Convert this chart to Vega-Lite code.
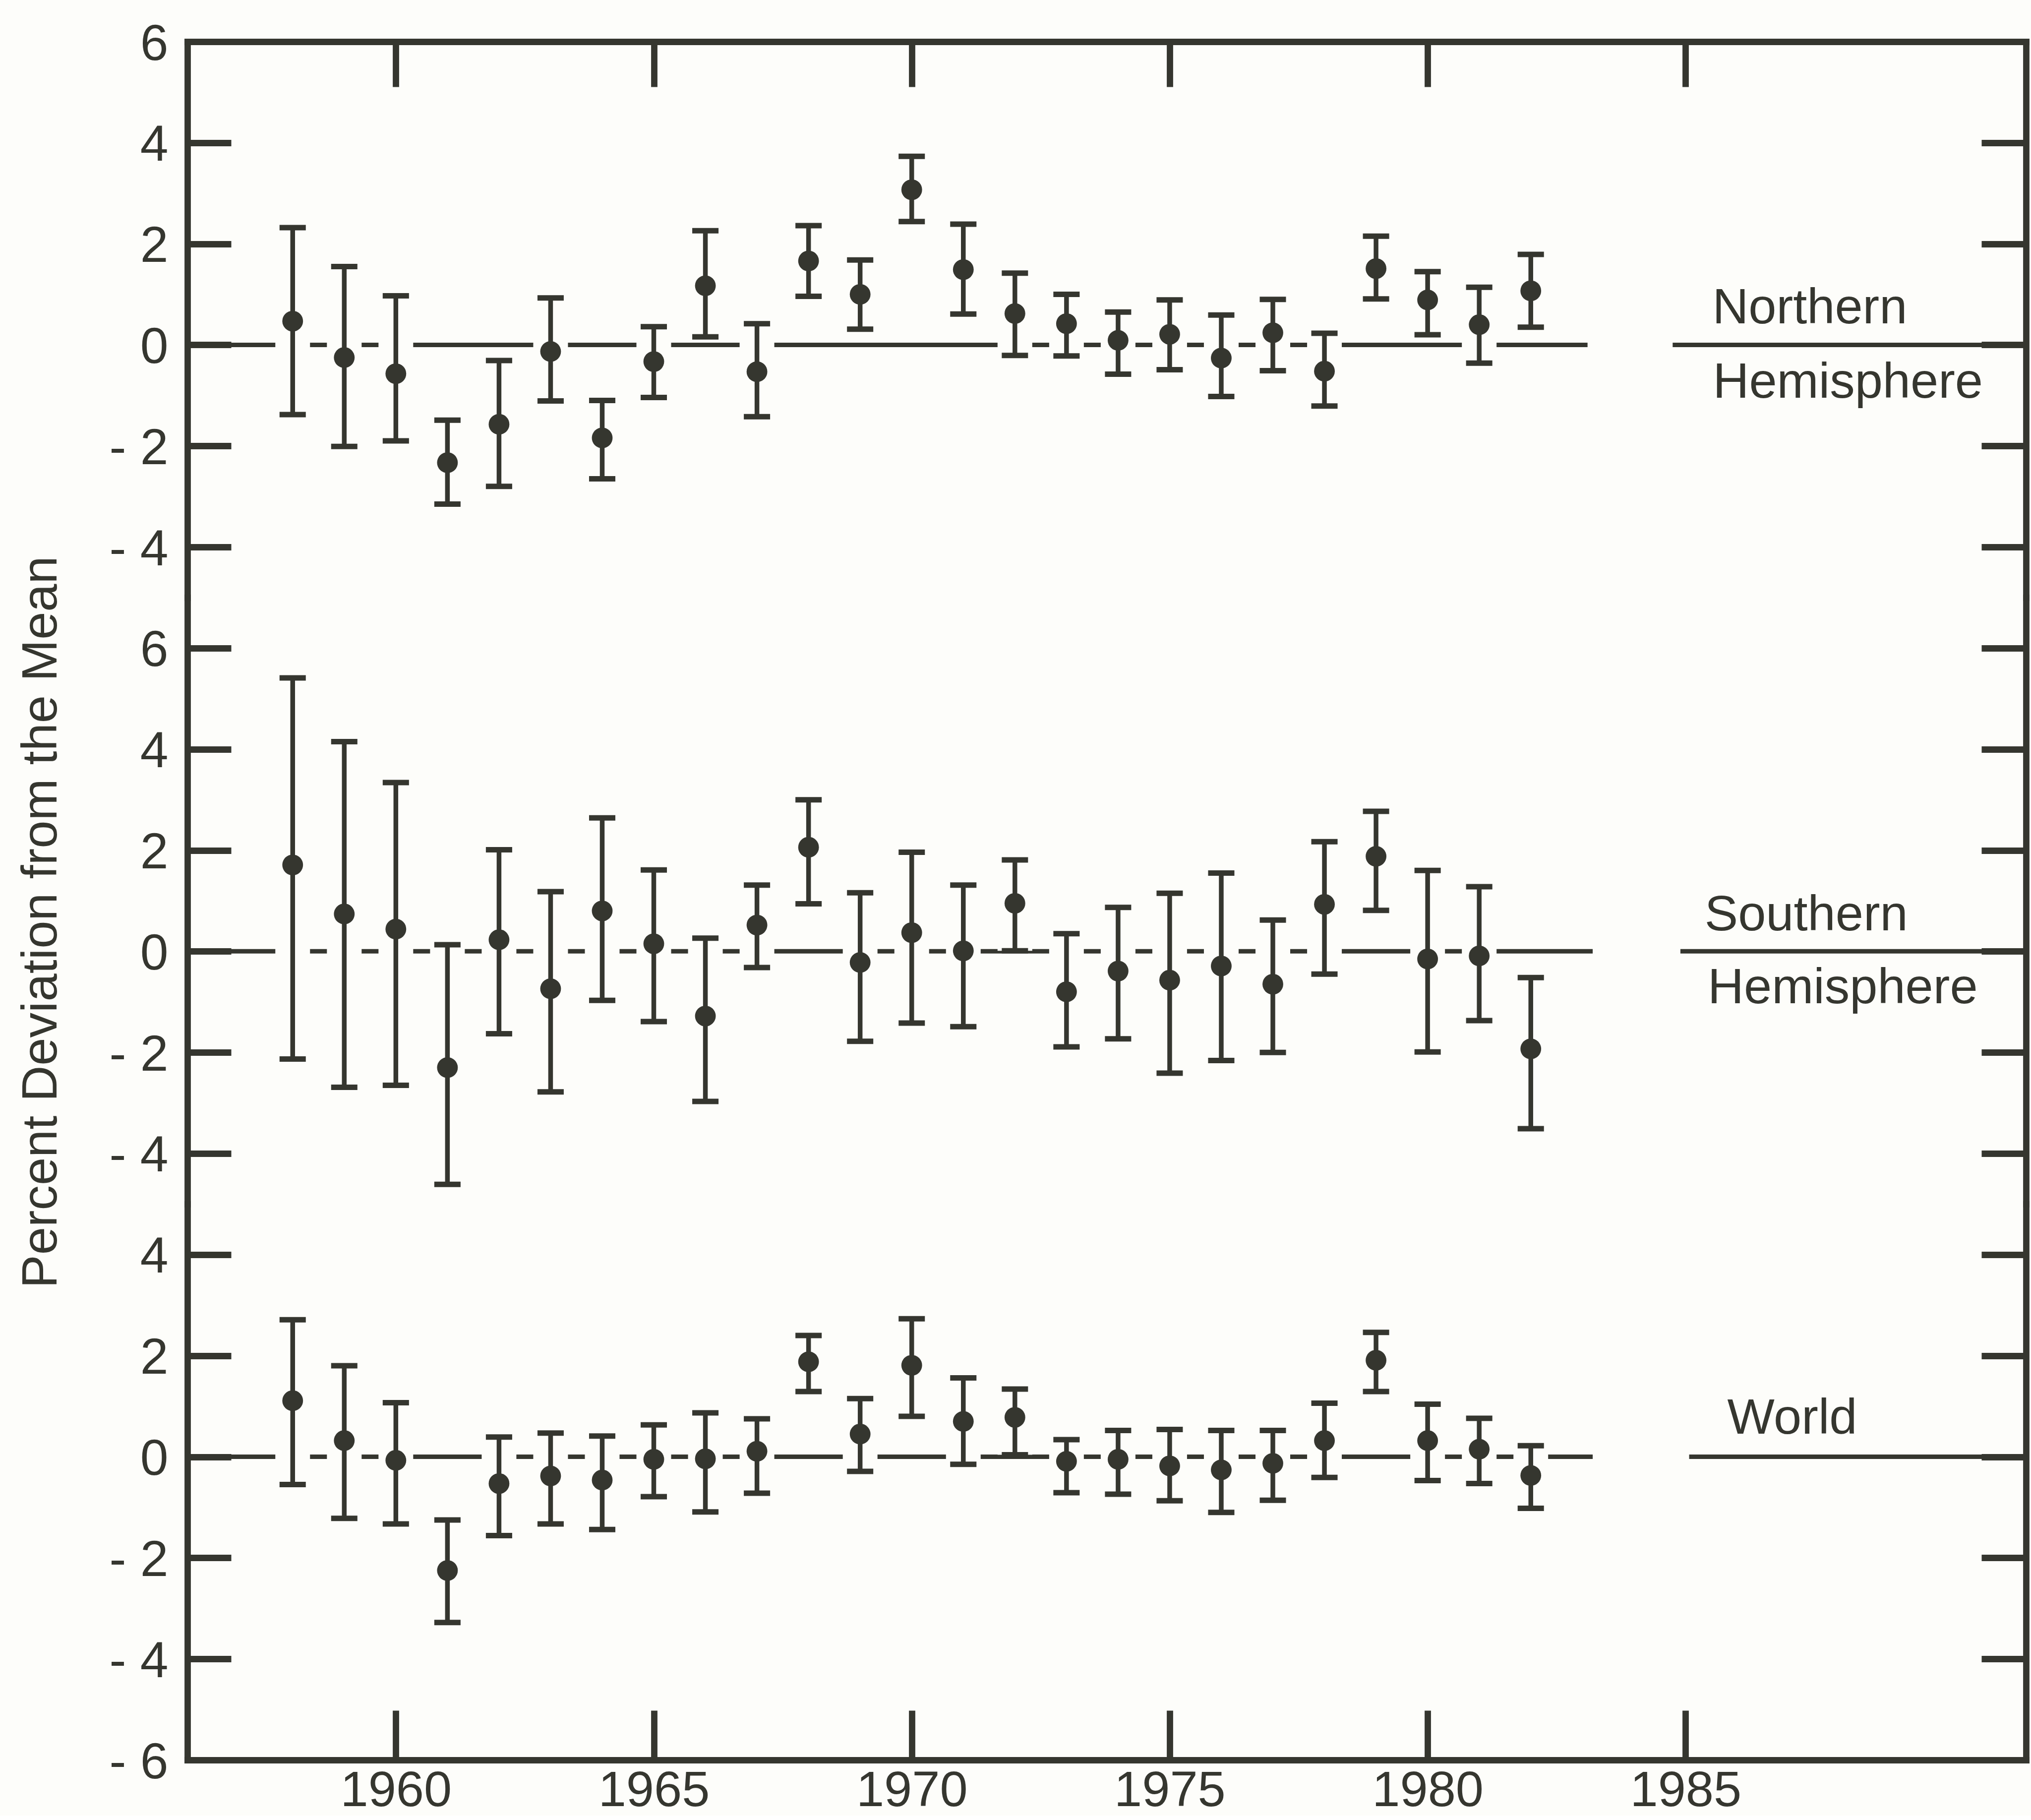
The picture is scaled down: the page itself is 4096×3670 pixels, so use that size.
{
"$schema": "https://vega.github.io/schema/vega-lite/v6.json",
"autosize": {"type": "pad"},
"padding": {"left": 31, "top": 38, "right": 4, "bottom": 0},
"background": "#fdfdfa",
"bounds": "flush",
"spacing": 0,
"config": {"view": {"stroke": null}, "font": "Liberation Sans", "axis": {"labelLimit": 0}},
"datasets": {
"pts": [
{"panel":"N","year":1958,"value":0.47,"lo":-1.38,"hi":2.32},
{"panel":"N","year":1959,"value":-0.25,"lo":-2.01,"hi":1.55},
{"panel":"N","year":1960,"value":-0.57,"lo":-1.90,"hi":0.97},
{"panel":"N","year":1961,"value":-2.33,"lo":-3.15,"hi":-1.49},
{"panel":"N","year":1962,"value":-1.57,"lo":-2.80,"hi":-0.31},
{"panel":"N","year":1963,"value":-0.13,"lo":-1.11,"hi":0.93},
{"panel":"N","year":1964,"value":-1.84,"lo":-2.65,"hi":-1.10},
{"panel":"N","year":1965,"value":-0.33,"lo":-1.04,"hi":0.36},
{"panel":"N","year":1966,"value":1.17,"lo":0.16,"hi":2.26},
{"panel":"N","year":1967,"value":-0.53,"lo":-1.42,"hi":0.42},
{"panel":"N","year":1968,"value":1.66,"lo":0.96,"hi":2.36},
{"panel":"N","year":1969,"value":1.00,"lo":0.31,"hi":1.68},
{"panel":"N","year":1970,"value":3.07,"lo":2.44,"hi":3.73},
{"panel":"N","year":1971,"value":1.49,"lo":0.61,"hi":2.39},
{"panel":"N","year":1972,"value":0.62,"lo":-0.21,"hi":1.42},
{"panel":"N","year":1973,"value":0.42,"lo":-0.22,"hi":1.00},
{"panel":"N","year":1974,"value":0.09,"lo":-0.58,"hi":0.65},
{"panel":"N","year":1975,"value":0.21,"lo":-0.49,"hi":0.89},
{"panel":"N","year":1976,"value":-0.26,"lo":-1.02,"hi":0.59},
{"panel":"N","year":1977,"value":0.24,"lo":-0.51,"hi":0.90},
{"panel":"N","year":1978,"value":-0.52,"lo":-1.21,"hi":0.23},
{"panel":"N","year":1979,"value":1.51,"lo":0.91,"hi":2.15},
{"panel":"N","year":1980,"value":0.89,"lo":0.20,"hi":1.45},
{"panel":"N","year":1981,"value":0.40,"lo":-0.36,"hi":1.14},
{"panel":"N","year":1982,"value":1.07,"lo":0.35,"hi":1.79},
{"panel":"S","year":1958,"value":1.71,"lo":-2.13,"hi":5.41},
{"panel":"S","year":1959,"value":0.74,"lo":-2.69,"hi":4.15},
{"panel":"S","year":1960,"value":0.44,"lo":-2.65,"hi":3.34},
{"panel":"S","year":1961,"value":-2.30,"lo":-4.61,"hi":0.13},
{"panel":"S","year":1962,"value":0.23,"lo":-1.63,"hi":2.01},
{"panel":"S","year":1963,"value":-0.74,"lo":-2.78,"hi":1.18},
{"panel":"S","year":1964,"value":0.80,"lo":-0.97,"hi":2.64},
{"panel":"S","year":1965,"value":0.15,"lo":-1.39,"hi":1.61},
{"panel":"S","year":1966,"value":-1.28,"lo":-2.97,"hi":0.26},
{"panel":"S","year":1967,"value":0.52,"lo":-0.32,"hi":1.31},
{"panel":"S","year":1968,"value":2.06,"lo":0.94,"hi":3.00},
{"panel":"S","year":1969,"value":-0.22,"lo":-1.78,"hi":1.16},
{"panel":"S","year":1970,"value":0.37,"lo":-1.42,"hi":1.96},
{"panel":"S","year":1971,"value":0.01,"lo":-1.49,"hi":1.31},
{"panel":"S","year":1972,"value":0.95,"lo":0.01,"hi":1.81},
{"panel":"S","year":1973,"value":-0.80,"lo":-1.89,"hi":0.35},
{"panel":"S","year":1974,"value":-0.39,"lo":-1.73,"hi":0.87},
{"panel":"S","year":1975,"value":-0.57,"lo":-2.41,"hi":1.15},
{"panel":"S","year":1976,"value":-0.29,"lo":-2.16,"hi":1.55},
{"panel":"S","year":1977,"value":-0.65,"lo":-2.00,"hi":0.62},
{"panel":"S","year":1978,"value":0.93,"lo":-0.45,"hi":2.17},
{"panel":"S","year":1979,"value":1.88,"lo":0.81,"hi":2.77},
{"panel":"S","year":1980,"value":-0.15,"lo":-1.99,"hi":1.60},
{"panel":"S","year":1981,"value":-0.09,"lo":-1.37,"hi":1.28},
{"panel":"S","year":1982,"value":-1.93,"lo":-3.51,"hi":-0.52},
{"panel":"W","year":1958,"value":1.11,"lo":-0.55,"hi":2.71},
{"panel":"W","year":1959,"value":0.32,"lo":-1.22,"hi":1.80},
{"panel":"W","year":1960,"value":-0.07,"lo":-1.33,"hi":1.07},
{"panel":"W","year":1961,"value":-2.25,"lo":-3.28,"hi":-1.25},
{"panel":"W","year":1962,"value":-0.53,"lo":-1.56,"hi":0.39},
{"panel":"W","year":1963,"value":-0.38,"lo":-1.33,"hi":0.47},
{"panel":"W","year":1964,"value":-0.46,"lo":-1.44,"hi":0.41},
{"panel":"W","year":1965,"value":-0.05,"lo":-0.79,"hi":0.63},
{"panel":"W","year":1966,"value":-0.04,"lo":-1.09,"hi":0.87},
{"panel":"W","year":1967,"value":0.11,"lo":-0.72,"hi":0.75},
{"panel":"W","year":1968,"value":1.88,"lo":1.29,"hi":2.40},
{"panel":"W","year":1969,"value":0.45,"lo":-0.29,"hi":1.15},
{"panel":"W","year":1970,"value":1.81,"lo":0.80,"hi":2.73},
{"panel":"W","year":1971,"value":0.70,"lo":-0.15,"hi":1.56},
{"panel":"W","year":1972,"value":0.78,"lo":0.04,"hi":1.34},
{"panel":"W","year":1973,"value":-0.09,"lo":-0.71,"hi":0.34},
{"panel":"W","year":1974,"value":-0.05,"lo":-0.74,"hi":0.52},
{"panel":"W","year":1975,"value":-0.18,"lo":-0.87,"hi":0.54},
{"panel":"W","year":1976,"value":-0.26,"lo":-1.10,"hi":0.52},
{"panel":"W","year":1977,"value":-0.13,"lo":-0.86,"hi":0.52},
{"panel":"W","year":1978,"value":0.32,"lo":-0.41,"hi":1.06},
{"panel":"W","year":1979,"value":1.91,"lo":1.29,"hi":2.46},
{"panel":"W","year":1980,"value":0.32,"lo":-0.47,"hi":1.04},
{"panel":"W","year":1981,"value":0.15,"lo":-0.53,"hi":0.76},
{"panel":"W","year":1982,"value":-0.37,"lo":-1.02,"hi":0.22}
],
"lines": [
{"panel":"N","seg":"trend","year":1955.96,"value":0},
{"panel":"N","seg":"trend","year":1983.1,"value":0},
{"panel":"N","seg":"label","year":1984.75,"value":0},
{"panel":"N","seg":"label","year":1991.6,"value":0},
{"panel":"S","seg":"trend","year":1955.96,"value":0},
{"panel":"S","seg":"trend","year":1983.2,"value":0},
{"panel":"S","seg":"label","year":1984.9,"value":0},
{"panel":"S","seg":"label","year":1991.6,"value":0},
{"panel":"W","seg":"trend","year":1955.96,"value":0},
{"panel":"W","seg":"trend","year":1983.2,"value":0},
{"panel":"W","seg":"label","year":1985.07,"value":0},
{"panel":"W","seg":"label","year":1991.6,"value":0}
],
"labels": [
{"panel":"N","text":"Northern","year":1985.52,"value":0.43},
{"panel":"N","text":"Hemisphere","year":1985.53,"value":-1.05},
{"panel":"S","text":"Southern","year":1985.37,"value":0.42},
{"panel":"S","text":"Hemisphere","year":1985.43,"value":-1.03},
{"panel":"W","text":"World","year":1985.81,"value":0.46}
]
},
"vconcat": [
{
"width": 3708, "height": 1121.0,
"resolve": {"axis": {"x": "independent", "y": "independent"}},
"layer": [
{"data": {"name": "lines"}, "transform": [{"filter": "datum.panel === 'N'"}],
 "mark": {"type": "line", "color": "#35362f", "strokeWidth": 9, "strokeCap": "butt"},
 "encoding": {
  "x": {"field": "year", "type": "quantitative", "scale": {"domain": [1955.96, 1991.6], "nice": false, "zero": false},
        "axis": {"orient": "top", "values": [1960,1965,1970,1975,1980,1985], "labels": false, "title": null, "grid": false, "tickSize": -91, "tickWidth": 12.8, "tickColor": "#35362f", "domain": true, "domainWidth": 12.8, "domainColor": "#35362f", "domainCap": "square"}},
  "y": {"field": "value", "type": "quantitative", "scale": {"domain": [-5, 6], "nice": false, "zero": false},
        "axis": {"orient": "left", "values": [-4,-2,0,2,4,6], "title": null, "grid": false, "tickSize": -88, "tickWidth": 12.8, "tickColor": "#35362f", "domain": true, "domainWidth": 12.8, "domainColor": "#35362f", "domainCap": "square", "labelFont": "Liberation Sans", "labelFontSize": 102, "labelColor": "#35362f", "labelPadding": 127, "labelAlign": "right", "labelBaseline": "alphabetic", "labelOffset": 36, "labelFlush": false, "labelOverlap": false, "labelBound": false, "labelLimit": 0, "labelExpr": "datum.value < 0 ? '- ' + abs(datum.value) : datum.label"}},
  "detail": {"field": "seg"}
 }},
{"data": {"name": "pts"}, "transform": [{"filter": "datum.panel === 'N'"}],
 "mark": {"type": "rule", "color": "#fdfdfa", "strokeWidth": 70},
 "encoding": {
  "x": {"field": "year", "type": "quantitative", "scale": {"domain": [1955.96, 1991.6], "nice": false, "zero": false}, "axis": null},
  "y": {"field": "lo", "type": "quantitative", "scale": {"domain": [-5, 6], "nice": false, "zero": false},
        "axis": {"orient": "right", "values": [-4,-2,0,2,4,6], "labels": false, "title": null, "grid": false, "tickSize": -90, "tickWidth": 12.8, "tickColor": "#35362f", "domain": true, "domainWidth": 12.8, "domainColor": "#35362f", "domainCap": "square"}},
  "y2": {"field": "hi"}
 }},
{"data": {"name": "pts"}, "transform": [{"filter": "datum.panel === 'N'"}],
 "mark": {"type": "rule", "color": "#35362f", "strokeWidth": 9.5},
 "encoding": {
  "x": {"field": "year", "type": "quantitative", "scale": {"domain": [1955.96, 1991.6], "nice": false, "zero": false}, "axis": null},
  "y": {"field": "lo", "type": "quantitative", "scale": {"domain": [-5, 6], "nice": false, "zero": false}, "axis": null},
  "y2": {"field": "hi"}
 }},
{"data": {"name": "pts"}, "transform": [{"filter": "datum.panel === 'N'"}],
 "mark": {"type": "tick", "orient": "horizontal", "size": 53, "thickness": 11, "color": "#35362f", "opacity": 1},
 "encoding": {
  "x": {"field": "year", "type": "quantitative", "scale": {"domain": [1955.96, 1991.6], "nice": false, "zero": false}, "axis": null},
  "y": {"field": "lo", "type": "quantitative", "scale": {"domain": [-5, 6], "nice": false, "zero": false}, "axis": null}
 }},
{"data": {"name": "pts"}, "transform": [{"filter": "datum.panel === 'N'"}],
 "mark": {"type": "tick", "orient": "horizontal", "size": 53, "thickness": 11, "color": "#35362f", "opacity": 1},
 "encoding": {
  "x": {"field": "year", "type": "quantitative", "scale": {"domain": [1955.96, 1991.6], "nice": false, "zero": false}, "axis": null},
  "y": {"field": "hi", "type": "quantitative", "scale": {"domain": [-5, 6], "nice": false, "zero": false}, "axis": null}
 }},
{"data": {"name": "pts"}, "transform": [{"filter": "datum.panel === 'N'"}],
 "mark": {"type": "circle", "size": 1750, "color": "#35362f", "opacity": 1},
 "encoding": {
  "x": {"field": "year", "type": "quantitative", "scale": {"domain": [1955.96, 1991.6], "nice": false, "zero": false}, "axis": null},
  "y": {"field": "value", "type": "quantitative", "scale": {"domain": [-5, 6], "nice": false, "zero": false}, "axis": null}
 }},
{"data": {"name": "labels"}, "transform": [{"filter": "datum.panel === 'N'"}],
 "mark": {"type": "text", "align": "left", "baseline": "alphabetic", "font": "Liberation Sans", "fontSize": 101, "color": "#35362f"},
 "encoding": {
  "x": {"field": "year", "type": "quantitative", "scale": {"domain": [1955.96, 1991.6], "nice": false, "zero": false}, "axis": null},
  "y": {"field": "value", "type": "quantitative", "scale": {"domain": [-5, 6], "nice": false, "zero": false}, "axis": null},
  "text": {"field": "text"}
 }}
]
},
{
"width": 3708, "height": 1222.9,
"resolve": {"axis": {"x": "independent", "y": "independent"}},
"layer": [
{"data": {"name": "lines"}, "transform": [{"filter": "datum.panel === 'S'"}],
 "mark": {"type": "line", "color": "#35362f", "strokeWidth": 9, "strokeCap": "butt"},
 "encoding": {
  "x": {"field": "year", "type": "quantitative", "scale": {"domain": [1955.96, 1991.6], "nice": false, "zero": false}, "axis": null},
  "y": {"field": "value", "type": "quantitative", "scale": {"domain": [-5, 7], "nice": false, "zero": false},
        "axis": {"orient": "left", "values": [-4,-2,0,2,4,6], "title": "Percent Deviation from the Mean", "titleFont": "Liberation Sans", "titleFontSize": 101, "titleFontWeight": "normal", "titleColor": "#35362f", "titleAngle": 270, "titleAlign": "center", "titleBaseline": "alphabetic", "titleX": -265, "titleY": 654, "titleLimit": 0, "grid": false, "tickSize": -88, "tickWidth": 12.8, "tickColor": "#35362f", "domain": true, "domainWidth": 12.8, "domainColor": "#35362f", "domainCap": "square", "labelFont": "Liberation Sans", "labelFontSize": 102, "labelColor": "#35362f", "labelPadding": 127, "labelAlign": "right", "labelBaseline": "alphabetic", "labelOffset": 36, "labelFlush": false, "labelOverlap": false, "labelBound": false, "labelLimit": 0, "labelExpr": "datum.value < 0 ? '- ' + abs(datum.value) : datum.label"}},
  "detail": {"field": "seg"}
 }},
{"data": {"name": "pts"}, "transform": [{"filter": "datum.panel === 'S'"}],
 "mark": {"type": "rule", "color": "#fdfdfa", "strokeWidth": 70},
 "encoding": {
  "x": {"field": "year", "type": "quantitative", "scale": {"domain": [1955.96, 1991.6], "nice": false, "zero": false}, "axis": null},
  "y": {"field": "lo", "type": "quantitative", "scale": {"domain": [-5, 7], "nice": false, "zero": false},
        "axis": {"orient": "right", "values": [-4,-2,0,2,4,6], "labels": false, "title": null, "grid": false, "tickSize": -90, "tickWidth": 12.8, "tickColor": "#35362f", "domain": true, "domainWidth": 12.8, "domainColor": "#35362f", "domainCap": "square"}},
  "y2": {"field": "hi"}
 }},
{"data": {"name": "pts"}, "transform": [{"filter": "datum.panel === 'S'"}],
 "mark": {"type": "rule", "color": "#35362f", "strokeWidth": 9.5},
 "encoding": {
  "x": {"field": "year", "type": "quantitative", "scale": {"domain": [1955.96, 1991.6], "nice": false, "zero": false}, "axis": null},
  "y": {"field": "lo", "type": "quantitative", "scale": {"domain": [-5, 7], "nice": false, "zero": false}, "axis": null},
  "y2": {"field": "hi"}
 }},
{"data": {"name": "pts"}, "transform": [{"filter": "datum.panel === 'S'"}],
 "mark": {"type": "tick", "orient": "horizontal", "size": 53, "thickness": 11, "color": "#35362f", "opacity": 1},
 "encoding": {
  "x": {"field": "year", "type": "quantitative", "scale": {"domain": [1955.96, 1991.6], "nice": false, "zero": false}, "axis": null},
  "y": {"field": "lo", "type": "quantitative", "scale": {"domain": [-5, 7], "nice": false, "zero": false}, "axis": null}
 }},
{"data": {"name": "pts"}, "transform": [{"filter": "datum.panel === 'S'"}],
 "mark": {"type": "tick", "orient": "horizontal", "size": 53, "thickness": 11, "color": "#35362f", "opacity": 1},
 "encoding": {
  "x": {"field": "year", "type": "quantitative", "scale": {"domain": [1955.96, 1991.6], "nice": false, "zero": false}, "axis": null},
  "y": {"field": "hi", "type": "quantitative", "scale": {"domain": [-5, 7], "nice": false, "zero": false}, "axis": null}
 }},
{"data": {"name": "pts"}, "transform": [{"filter": "datum.panel === 'S'"}],
 "mark": {"type": "circle", "size": 1750, "color": "#35362f", "opacity": 1},
 "encoding": {
  "x": {"field": "year", "type": "quantitative", "scale": {"domain": [1955.96, 1991.6], "nice": false, "zero": false}, "axis": null},
  "y": {"field": "value", "type": "quantitative", "scale": {"domain": [-5, 7], "nice": false, "zero": false}, "axis": null}
 }},
{"data": {"name": "labels"}, "transform": [{"filter": "datum.panel === 'S'"}],
 "mark": {"type": "text", "align": "left", "baseline": "alphabetic", "font": "Liberation Sans", "fontSize": 101, "color": "#35362f"},
 "encoding": {
  "x": {"field": "year", "type": "quantitative", "scale": {"domain": [1955.96, 1991.6], "nice": false, "zero": false}, "axis": null},
  "y": {"field": "value", "type": "quantitative", "scale": {"domain": [-5, 7], "nice": false, "zero": false}, "axis": null},
  "text": {"field": "text"}
 }}
]
},
{
"width": 3708, "height": 1121.0,
"resolve": {"axis": {"x": "independent", "y": "independent"}},
"layer": [
{"data": {"name": "lines"}, "transform": [{"filter": "datum.panel === 'W'"}],
 "mark": {"type": "line", "color": "#35362f", "strokeWidth": 9, "strokeCap": "butt"},
 "encoding": {
  "x": {"field": "year", "type": "quantitative", "scale": {"domain": [1955.96, 1991.6], "nice": false, "zero": false},
        "axis": {"orient": "bottom", "values": [1960,1965,1970,1975,1980,1985], "format": "d", "title": null, "grid": false, "tickSize": -100, "tickWidth": 12.8, "tickColor": "#35362f", "domain": true, "domainWidth": 12.8, "domainColor": "#35362f", "domainCap": "square", "labelFont": "Liberation Sans", "labelFontSize": 101, "labelColor": "#35362f", "labelPadding": 112, "labelAlign": "center", "labelBaseline": "top", "labelFlush": false, "labelOverlap": false, "labelBound": false, "labelLimit": 0}},
  "y": {"field": "value", "type": "quantitative", "scale": {"domain": [-6, 5], "nice": false, "zero": false},
        "axis": {"orient": "left", "values": [-6,-4,-2,0,2,4], "title": null, "grid": false, "tickSize": -88, "tickWidth": 12.8, "tickColor": "#35362f", "domain": true, "domainWidth": 12.8, "domainColor": "#35362f", "domainCap": "square", "labelFont": "Liberation Sans", "labelFontSize": 102, "labelColor": "#35362f", "labelPadding": 127, "labelAlign": "right", "labelBaseline": "alphabetic", "labelOffset": 36, "labelFlush": false, "labelOverlap": false, "labelBound": false, "labelLimit": 0, "labelExpr": "datum.value < 0 ? '- ' + abs(datum.value) : datum.label"}},
  "detail": {"field": "seg"}
 }},
{"data": {"name": "pts"}, "transform": [{"filter": "datum.panel === 'W'"}],
 "mark": {"type": "rule", "color": "#fdfdfa", "strokeWidth": 70},
 "encoding": {
  "x": {"field": "year", "type": "quantitative", "scale": {"domain": [1955.96, 1991.6], "nice": false, "zero": false}, "axis": null},
  "y": {"field": "lo", "type": "quantitative", "scale": {"domain": [-6, 5], "nice": false, "zero": false},
        "axis": {"orient": "right", "values": [-6,-4,-2,0,2,4], "labels": false, "title": null, "grid": false, "tickSize": -90, "tickWidth": 12.8, "tickColor": "#35362f", "domain": true, "domainWidth": 12.8, "domainColor": "#35362f", "domainCap": "square"}},
  "y2": {"field": "hi"}
 }},
{"data": {"name": "pts"}, "transform": [{"filter": "datum.panel === 'W'"}],
 "mark": {"type": "rule", "color": "#35362f", "strokeWidth": 9.5},
 "encoding": {
  "x": {"field": "year", "type": "quantitative", "scale": {"domain": [1955.96, 1991.6], "nice": false, "zero": false}, "axis": null},
  "y": {"field": "lo", "type": "quantitative", "scale": {"domain": [-6, 5], "nice": false, "zero": false}, "axis": null},
  "y2": {"field": "hi"}
 }},
{"data": {"name": "pts"}, "transform": [{"filter": "datum.panel === 'W'"}],
 "mark": {"type": "tick", "orient": "horizontal", "size": 53, "thickness": 11, "color": "#35362f", "opacity": 1},
 "encoding": {
  "x": {"field": "year", "type": "quantitative", "scale": {"domain": [1955.96, 1991.6], "nice": false, "zero": false}, "axis": null},
  "y": {"field": "lo", "type": "quantitative", "scale": {"domain": [-6, 5], "nice": false, "zero": false}, "axis": null}
 }},
{"data": {"name": "pts"}, "transform": [{"filter": "datum.panel === 'W'"}],
 "mark": {"type": "tick", "orient": "horizontal", "size": 53, "thickness": 11, "color": "#35362f", "opacity": 1},
 "encoding": {
  "x": {"field": "year", "type": "quantitative", "scale": {"domain": [1955.96, 1991.6], "nice": false, "zero": false}, "axis": null},
  "y": {"field": "hi", "type": "quantitative", "scale": {"domain": [-6, 5], "nice": false, "zero": false}, "axis": null}
 }},
{"data": {"name": "pts"}, "transform": [{"filter": "datum.panel === 'W'"}],
 "mark": {"type": "circle", "size": 1750, "color": "#35362f", "opacity": 1},
 "encoding": {
  "x": {"field": "year", "type": "quantitative", "scale": {"domain": [1955.96, 1991.6], "nice": false, "zero": false}, "axis": null},
  "y": {"field": "value", "type": "quantitative", "scale": {"domain": [-6, 5], "nice": false, "zero": false}, "axis": null}
 }},
{"data": {"name": "labels"}, "transform": [{"filter": "datum.panel === 'W'"}],
 "mark": {"type": "text", "align": "left", "baseline": "alphabetic", "font": "Liberation Sans", "fontSize": 101, "color": "#35362f"},
 "encoding": {
  "x": {"field": "year", "type": "quantitative", "scale": {"domain": [1955.96, 1991.6], "nice": false, "zero": false}, "axis": null},
  "y": {"field": "value", "type": "quantitative", "scale": {"domain": [-6, 5], "nice": false, "zero": false}, "axis": null},
  "text": {"field": "text"}
 }}
]
}
]
}
